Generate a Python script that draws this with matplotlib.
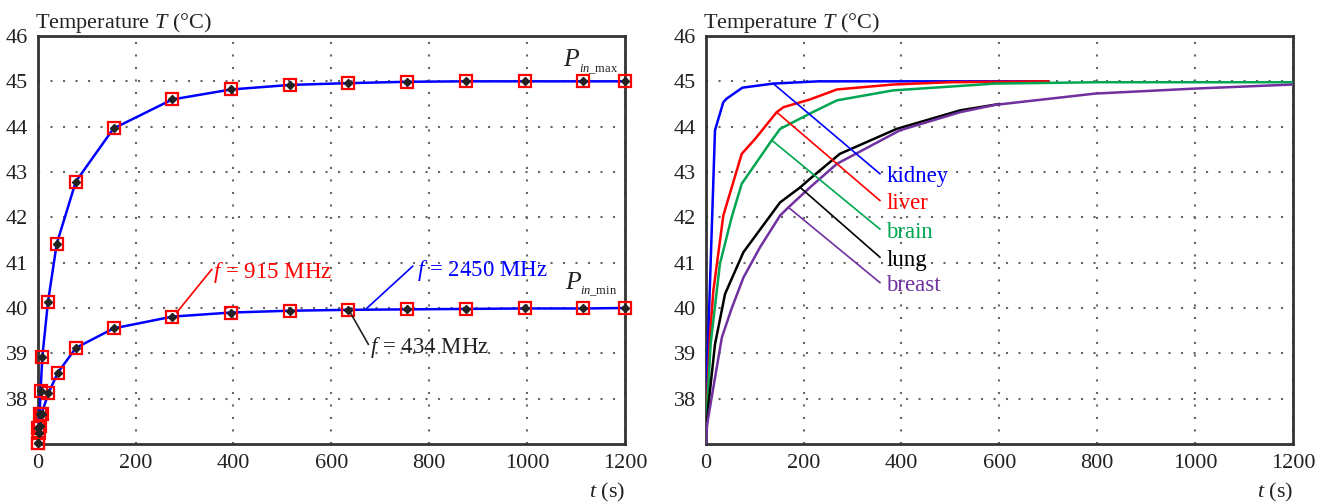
import matplotlib
matplotlib.use("Agg")
import matplotlib.pyplot as plt

plt.rcParams['font.family'] = ['Liberation Serif', 'DejaVu Serif']
plt.rcParams['mathtext.fontset'] = 'custom'
plt.rcParams['mathtext.rm'] = 'Liberation Serif'
plt.rcParams['mathtext.it'] = 'Liberation Serif:italic'
plt.rcParams['font.size'] = 16

# ---------------- data: left panel (P_in max / min, three frequencies coincide)
t_max = [0, 1.5, 4, 6, 9.5, 21, 39, 78, 155, 275, 395, 515, 635, 755, 875, 995, 1115, 1200]
T_max = [37.03, 37.35, 37.66, 38.18, 38.92, 40.13, 41.42, 42.79, 43.96, 44.60, 44.82, 44.92,
         44.96, 44.99, 45.0, 45.0, 45.0, 45.0]
t_min = [0, 2, 5, 8, 22, 41, 78, 155, 275, 395, 515, 635, 755, 875, 995, 1115, 1200]
T_min = [37.03, 37.25, 37.40, 37.67, 38.12, 38.57, 39.12, 39.55, 39.81, 39.90, 39.94, 39.96,
         39.97, 39.98, 39.99, 39.99, 40.0]

# ---------------- data: right panel (tissues)
tissues = ['kidney', 'liver', 'brain', 'lung', 'breast']
colors = ['#0000ff', '#ff0000', '#00a651', '#000000', '#7030a0']
t_kidney = [0, 19, 36, 43, 75, 138, 230, 400, 700]
T_kidney = [37.65, 43.92, 44.54, 44.62, 44.86, 44.95, 45.0, 45.0, 45.0]
t_liver = [0, 9, 15.6, 36, 73.6, 101, 145, 159, 213, 268, 383, 500, 700]
T_liver = [37.3, 39.43, 40.38, 42.04, 43.40, 43.73, 44.32, 44.43, 44.60, 44.82, 44.93, 44.98, 45.0]
t_brain = [0, 10, 29, 53, 73.6, 135, 152, 213, 268, 383, 591, 800, 1200]
T_brain = [37.2, 39.2, 40.97, 42.0, 42.74, 43.70, 43.95, 44.29, 44.58, 44.80, 44.95, 44.98, 44.98]
t_lung = [0, 5, 19, 39.5, 77, 152, 193, 213, 274, 390, 520, 600]
T_lung = [37.1, 37.8, 39.2, 40.31, 41.23, 42.33, 42.66, 42.85, 43.40, 43.95, 44.36, 44.50]
t_breast = [0, 3, 33, 53, 77, 111, 152, 169, 213, 268, 397, 520, 591, 796, 1000, 1200]
T_breast = [37.0, 37.44, 39.35, 39.99, 40.67, 41.34, 42.04, 42.22, 42.66, 43.18, 43.92, 44.32,
            44.48, 44.73, 44.84, 44.93]

# label leader lines: (start on curve) -> (text)
lab_start = [(138, 44.95), (145, 44.32), (135, 43.70), (193, 42.66), (169, 42.22)]
lab_end = [(356, 42.96), (356, 42.37), (356, 41.74), (356, 41.12), (356, 40.56)]

xticks = [0, 200, 400, 600, 800, 1000, 1200]
yticks = [38, 39, 40, 41, 42, 43, 44, 45, 46]

fig = plt.figure(figsize=(13.31, 5.04), dpi=100)
ax1 = fig.add_axes([0.0283, 0.119, 0.4413, 0.8096])
ax2 = fig.add_axes([0.5302, 0.119, 0.4413, 0.8096])

for ax in (ax1, ax2):
    ax.set_xlim(0, 1200)
    ax.set_ylim(37, 46)
    ax.set_xticks(xticks)
    ax.set_yticks(yticks)
    ax.tick_params(length=0, pad=7, labelsize=16, colors='#222222')
    ax.grid(True, color='#666666', linestyle=(0, (1, 5)), linewidth=1.5)
    for s in ax.spines.values():
        s.set_linewidth(2)
        s.set_color('#333333')
    ax.text(-0.004, 1.02, 'Temperature $T$ (°C)', transform=ax.transAxes, ha='left',
            va='baseline', fontsize=16, color='#222222')
    ax.text(1, -0.132, '$t$ (s)', transform=ax.transAxes, ha='right', va='baseline',
            fontsize=16, color='#222222')

# ----- left panel
for tt, TT in ((t_max, T_max), (t_min, T_min)):
    ax1.plot(tt, TT, color='#0000ff', lw=1.8, zorder=3)            # f = 2450 MHz
    ax1.plot(tt, TT, ls='none', marker='s', ms=8, mfc='none', mec='#ff0000',
             mew=1.6, zorder=4, clip_on=False)                     # f = 915 MHz
    ax1.plot(tt, TT, ls='none', marker='D', ms=4.2, mfc='#222222', mec='#222222',
             zorder=5, clip_on=False)                              # f = 434 MHz

ax1.plot([284, 355.5], [39.9, 40.85], color='#ff0000', lw=1.2, zorder=3)
ax1.text(358, 40.66, '$f$ = 915 MHz', color='#ff0000', fontsize=16.5, va='baseline')
ax1.plot([672, 766], [39.99, 40.92], color='#0000ff', lw=1.2, zorder=3)
ax1.text(774, 40.70, '$f$ = 2450 MHz', color='#0000ff', fontsize=16.5, va='baseline')
ax1.plot([635, 675.5], [39.97, 39.2], color='#222222', lw=1.2, zorder=6)
ax1.text(679, 39.0, '$f$ = 434 MHz', color='#222222', fontsize=16.5, va='baseline')

ax1.text(1073, 45.34, '$P$', fontsize=18.5, va='baseline', color='#222222')
ax1.text(1106, 45.21, '$in$_max', fontsize=9, va='baseline', color='#222222')
ax1.text(1077, 40.42, '$P$', fontsize=18.5, va='baseline', color='#222222')
ax1.text(1109, 40.31, '$in$_min', fontsize=9, va='baseline', color='#222222')

# ----- right panel
series = [(t_kidney, T_kidney), (t_liver, T_liver), (t_brain, T_brain),
          (t_lung, T_lung), (t_breast, T_breast)]
for (tt, TT), c in zip(series, colors):
    ax2.plot(tt, TT, color=c, lw=1.8, zorder=3)
for name, c, (x0, y0), (x1, y1) in zip(tissues, colors, lab_start, lab_end):
    ax2.plot([x0, x1], [y0, y1], color=c, lw=1.2, zorder=3)
    ax2.text(x1 + 13, y1 - 0.07, name, color=c, fontsize=16.5, va='center', ha='left')

fig.savefig('out.png', dpi=100)
